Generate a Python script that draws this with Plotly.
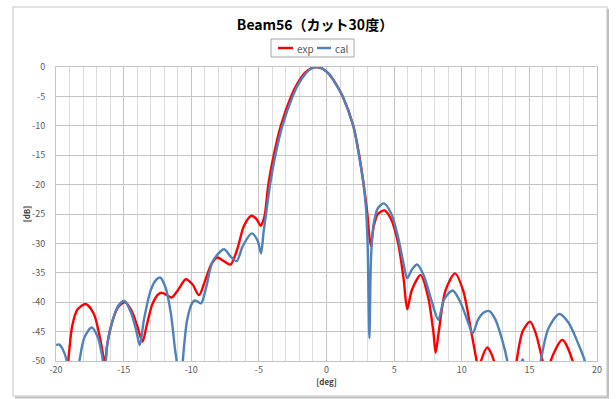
import plotly.graph_objects as go

# ---- data ----
exp_deg = [-20.0, -19.4, -19.1, -18.8, -18.4, -17.8, -17.2, -16.8, -16.45, -16.4, -16.2, -15.8, -15.4,
           -14.9, -14.4, -14.0, -13.6, -13.3, -12.9, -12.5, -12.2, -11.8, -11.45, -11.0, -10.4, -9.9,
           -9.43, -9.0, -8.5, -8.07, -7.6, -7.1, -6.6, -6.1, -5.55, -5.2, -4.87, -4.7, -4.55, -4.30,
           -3.90, -3.38, -2.62, -2.2, -1.6, -1.2, -0.8, -0.3, 0.2, 0.7, 1.2, 1.98, 2.42, 2.75, 3.0, 3.27,
           3.5, 3.8, 4.3, 4.8, 5.3, 5.7, 5.97, 6.3, 6.96, 7.5, 7.9, 8.07, 8.3, 8.8, 9.5, 10.1, 10.7, 11.1,
           11.25, 11.42, 11.89, 12.38, 12.6, 13.6, 14.06, 14.5, 15.05, 15.5, 15.98, 16.3, 16.57,
           17.43, 18.2, 18.6, 20.0]
exp_db = [-60, -55, -50, -44, -41.2, -40.3, -42, -45.5, -50, -51, -47, -43, -40.8,
          -40.0, -41.5, -44, -46.7, -44, -40.5, -38.8, -38.4, -38.8, -39.2, -38, -36.1, -37,
          -38.8, -36.5, -33.5, -32.4, -33, -33.6, -31, -27, -25.3, -25.8, -27.0, -26.3, -25, -20,
          -15, -10, -5, -3.0, -1.0, -0.3, 0, -0.3, -1.25, -2.9, -5, -10, -15, -20, -24.5, -30.4,
          -27, -25, -24.4, -26, -30, -36, -41.2, -38, -35.4, -39, -45, -48.6, -45, -38, -35.1, -38, -45, -50,
          -52, -50, -47.7, -50, -55, -60, -50, -45, -43.3, -45.5, -50, -53, -50,
          -46.4, -50, -56, -60]

cal_deg = [-20.0, -19.75, -19.5, -19.2, -18.7, -18.27, -17.9, -17.36, -16.9, -16.6, -16.4, -16.2,
           -15.8, -15.4, -14.95, -14.5, -14.1, -13.8, -13.5, -13.0, -12.6, -12.3, -11.9, -11.5, -11.2,
           -11.08, -10.85, -10.63, -10.3, -9.9, -9.7, -9.28, -8.9, -8.4, -7.58, -7.1, -6.64, -6.2,
           -5.53, -5.1, -4.84, -4.65, -4.47, -4.17, -3.78, -3.26, -2.50, -2.1, -1.5, -1.15, -0.75,
           -0.3, 0.2, 0.7, 1.2, 1.98, 2.4, 2.74, 2.92, 3.04, 3.17, 3.3, 3.5, 3.8, 4.25, 4.8, 5.3, 5.7,
           5.97, 6.3, 6.71, 7.2, 7.8, 8.27, 8.7, 9.33, 9.9, 10.4, 10.81, 11.2, 11.6, 12.04, 12.5, 13.0,
           13.37, 13.7, 14.1, 14.5, 14.9, 15.4, 15.84, 16.4, 17.21, 17.9, 18.6, 19.1, 19.5, 20.0]
cal_db = [-47.3, -47.2, -48, -50, -57, -50, -46, -44.3, -46, -49, -52, -47,
          -43, -40.6, -39.8, -41.5, -44.5, -47.3, -43, -38, -36.2, -35.8, -37.5, -42, -48,
          -50, -56, -50, -43, -40, -39.7, -40.2, -37.5, -33, -31.0, -32.2, -33.0, -30.5,
          -28.3, -29.5, -31.7, -28, -25, -20, -15, -10, -5, -3.0, -1.0, -0.3, 0,
          -0.25, -1.2, -2.9, -5, -10, -15, -20, -24, -30, -46.1, -32, -26.5, -24, -23.2, -25, -29, -33.5,
          -35.9, -34.5, -33.6, -35.5, -40, -43.0, -39.5, -38.0, -40, -43, -45.3, -43, -41.8, -41.5, -43, -46.5,
          -50, -55, -53, -49.7, -53, -56, -50, -44.5, -42.0, -43.5, -47, -50, -55, -60]

series_names = ["exp", "cal"]
series_colors = ["#ff0000", "#4f81bd"]
x_ticks = [-20, -15, -10, -5, 0, 5, 10, 15, 20]
y_ticks = [0, -5, -10, -15, -20, -25, -30, -35, -40, -45, -50]
title_text = "Beam56（カット30度）"
x_title = "[deg]"
y_title = "[dB]"

FONT = "Noto Sans CJK JP, Noto Sans, sans-serif"

fig = go.Figure()
for xs, ys, name, col in [(exp_deg, exp_db, series_names[0], series_colors[0]),
                          (cal_deg, cal_db, series_names[1], series_colors[1])]:
    fig.add_trace(go.Scatter(x=xs, y=ys, mode="lines", name=name, showlegend=False,
                             line=dict(color=col, width=2.4, shape="spline", smoothing=0.8)))

W, H = 616, 399
ml, mr, mt, mb = 56, 19, 67, 38
pw, ph = W - ml - mr, H - mt - mb

def px2paper_x(px):
    return (px - ml) / pw

def px2paper_y(py):
    return (H - mb - py) / ph

fig.update_layout(
    width=W, height=H,
    margin=dict(l=ml, r=mr, t=mt, b=mb, pad=0),
    paper_bgcolor="white", plot_bgcolor="white",
    font=dict(family=FONT, size=9, color="#595959"),
    title=dict(text="<b>" + title_text + "</b>", x=315 / W, xanchor="center",
               y=1 - 25 / H, yanchor="middle",
               font=dict(family=FONT, size=14, color="#000000")),
    showlegend=False,
    xaxis=dict(range=[-20, 20], tickvals=x_ticks, ticktext=[str(v) for v in x_ticks],
               showgrid=True, gridcolor="#c4c4c4", gridwidth=1, zeroline=False,
               showline=True, linecolor="#c4c4c4", mirror=True, ticks="",
               minor=dict(dtick=1, showgrid=True, gridcolor="#dcdcdc", gridwidth=1),
               tickfont=dict(size=9, color="#595959"),
               title=dict(text="<b>" + x_title + "</b>", font=dict(size=8, color="#404040"), standoff=4)),
    yaxis=dict(range=[-50, 0], tickvals=y_ticks, ticktext=[str(v) for v in y_ticks],
               showgrid=True, gridcolor="#c4c4c4", gridwidth=1, zeroline=False,
               showline=True, linecolor="#c4c4c4", mirror=True, ticks="",
               ticklabelstandoff=8,
               tickfont=dict(size=9, color="#595959"),
               title=dict(text="<b>" + y_title + "</b>", font=dict(size=8, color="#404040"), standoff=0)),
)

# legend (drawn as box + sample lines + labels)
fig.add_shape(type="rect", xref="paper", yref="paper",
              x0=px2paper_x(271), x1=px2paper_x(354), y0=px2paper_y(57), y1=px2paper_y(39),
              line=dict(color="#a6a6a6", width=1), fillcolor="white")
leg_items = [(278, 293, 295), (317, 331, 333)]
for (lx0, lx1, tx), name, col in zip(leg_items, series_names, series_colors):
    fig.add_shape(type="line", xref="paper", yref="paper",
                  x0=px2paper_x(lx0), x1=px2paper_x(lx1), y0=px2paper_y(48), y1=px2paper_y(48),
                  line=dict(color=col, width=2.4))
    fig.add_annotation(xref="paper", yref="paper", x=px2paper_x(tx), y=px2paper_y(48),
                       text=name, showarrow=False, xanchor="left", yanchor="middle",
                       font=dict(family=FONT, size=10, color="#595959"))

# outer chart frame with slight shadow (right / bottom)
fig.add_shape(type="rect", xref="paper", yref="paper",
              x0=px2paper_x(13), x1=px2paper_x(607), y0=px2paper_y(396), y1=px2paper_y(7),
              line=dict(color="#d9d9d9", width=1.5), layer="below")
fig.add_shape(type="line", xref="paper", yref="paper", x0=px2paper_x(608), x1=px2paper_x(608),
              y0=px2paper_y(397), y1=px2paper_y(9), line=dict(color="#c0c0c0", width=2))
fig.add_shape(type="line", xref="paper", yref="paper", x0=px2paper_x(15), x1=px2paper_x(609),
              y0=px2paper_y(397.5), y1=px2paper_y(397.5), line=dict(color="#c0c0c0", width=2))

fig.write_html("out.html")
